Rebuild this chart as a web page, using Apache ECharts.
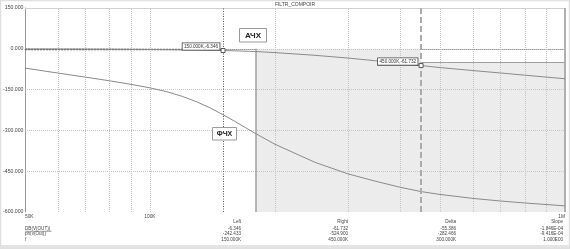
<!DOCTYPE html>
<html>
<head>
<meta charset="utf-8">
<script src="https://cdn.jsdelivr.net/npm/echarts@6/dist/echarts.min.js"></script>
<style>
  html, body { margin: 0; padding: 0; background: #fff; }
  #chart { width: 570px; height: 249px; }
</style>
</head>
<body>
<div id="chart"></div>
<script>
// Sweep frequencies, Hz
const freqs = [50000, 60000, 70000, 80000, 90000, 100000, 110000, 120000, 130000, 140000,
  150000, 160000, 174000, 180000, 200000, 250000, 300000, 350000, 400000, 450000,
  500000, 600000, 700000, 800000, 900000, 1000000];
// DB(V(OUT)), dB
const dbOut = [-0.4, -0.6, -0.9, -1.3, -1.8, -2.4, -3.0, -3.8, -4.6, -5.4,
  -6.346, -7.4, -9.2, -10, -14, -24, -34, -44, -53, -61.732,
  -69, -80, -89, -97, -104, -110];
// ph(v(Out)), degrees
const phOut = [-71, -89.1, -104.3, -117.7, -130.7, -143.5, -158, -175.5, -195.7, -218.2,
  -242.4334, -266.4, -299.2, -312.2, -350.9, -417.6, -459.8, -487.1, -508.8, -524.8996,
  -535.5, -550, -559.7, -566.9, -572.4, -577.5];

// Axis ticks and labels
const xTickValues = [50000, 100000, 1000000];
const xTickLabels = ['50K', '100K', '1M'];
const xGridFreqs = [60000, 70000, 80000, 90000, 100000, 200000, 300000, 400000,
  500000, 600000, 700000, 800000, 900000];
const yGridValues = [-450, -300, -150, 0];

// Cursors
const cursorLeft = 150000;
const cursorRight = 450000;

// Readout table
const rowNames = ['DB(V(OUT))', 'ph(v(Out))', 'f'];
const colNames = ['Left', 'Right', 'Delta', 'Slope'];

const title = 'FILTR_COMPOIR';
const curveNames = ['АЧХ', 'ФЧХ'];

const iL = freqs.indexOf(cursorLeft);
const iR = freqs.indexOf(cursorRight);

function fmtK(f) { return (f / 1000).toFixed(3) + 'K'; }
function fmtSci(v) {
  const s = v.toExponential(3);
  const parts = s.split('e');
  const n = parseInt(parts[1], 10);
  const e = (n < 0 ? '-' : '') + String(Math.abs(n)).padStart(2, '0');
  return parts[0] + 'E' + e;
}

const leftCol = [dbOut[iL].toFixed(3), phOut[iL].toFixed(3), fmtK(freqs[iL])];
const rightCol = [dbOut[iR].toFixed(3), phOut[iR].toFixed(3), fmtK(freqs[iR])];
const dF = freqs[iR] - freqs[iL];
const dDb = dbOut[iR] - dbOut[iL];
const dPh = phOut[iR] - phOut[iL];
const deltaCol = [dDb.toFixed(3), dPh.toFixed(3), fmtK(dF)];
const slopeCol = [fmtSci(dDb / dF), fmtSci(dPh / dF), fmtSci(dF / dF)];
const tableCols = [leftCol, rightCol, deltaCol, slopeCol];

const dbPts = freqs.map((f, i) => [f, dbOut[i]]);
const phPts = freqs.map((f, i) => [f, phOut[i]]);

const FONT = 'Liberation Sans, Arial, sans-serif';
const TXT = '#444';
const CURVE = '#8a8a8a';

const chart = echarts.init(document.getElementById('chart'), null, { renderer: 'canvas' });

const gridLineStyle = { color: '#c4c4c4', width: 1, type: [1, 1] };

const graphics = [];
// outer frame
graphics.push({ type: 'rect', shape: { x: 0, y: 245, width: 570, height: 4 }, style: { fill: '#e4e4e4' }, silent: true });
graphics.push({ type: 'rect', shape: { x: 0.5, y: 0.5, width: 569, height: 248 }, style: { fill: null, stroke: '#e0e0e0', lineWidth: 1.5 }, silent: true });
// title
graphics.push({ type: 'text', x: 295, y: 5, style: { text: title, fill: TXT, font: '5px ' + FONT, align: 'center', verticalAlign: 'middle' } });
// curve name boxes
graphics.push({ type: 'rect', shape: { x: 239.5, y: 28.5, width: 27, height: 13.5 }, style: { fill: '#fff', stroke: '#9a9a9a', lineWidth: 1 }, z: 20 });
graphics.push({ type: 'text', x: 253, y: 35.5, style: { text: curveNames[0], fill: '#222', font: 'bold 8px ' + FONT, align: 'center', verticalAlign: 'middle' }, z: 21 });
graphics.push({ type: 'rect', shape: { x: 212.5, y: 127.5, width: 24, height: 12.5 }, style: { fill: '#fff', stroke: '#9a9a9a', lineWidth: 1 }, z: 20 });
graphics.push({ type: 'text', x: 224.5, y: 134, style: { text: curveNames[1], fill: '#222', font: 'bold 7px ' + FONT, align: 'center', verticalAlign: 'middle' }, z: 21 });
// readout table
const rowY = [228.5, 234.2, 240];
const headY = 222;
const colRight = [241, 348, 456, 563];
rowNames.forEach((name, r) => {
  graphics.push({ type: 'text', x: 25, y: rowY[r], style: { text: name, fill: TXT, font: '4.6px ' + FONT, align: 'left', verticalAlign: 'middle' } });
});
graphics.push({ type: 'line', shape: { x1: 25, y1: 231.3, x2: 51.5, y2: 231.3 }, style: { stroke: '#666', lineWidth: 0.6 } });
colNames.forEach((name, c) => {
  graphics.push({ type: 'text', x: colRight[c], y: headY, style: { text: name, fill: TXT, font: '4.6px ' + FONT, align: 'right', verticalAlign: 'middle' } });
  tableCols[c].forEach((v, r) => {
    graphics.push({ type: 'text', x: colRight[c], y: rowY[r], style: { text: v, fill: TXT, font: '4.6px ' + FONT, align: 'right', verticalAlign: 'middle' } });
  });
});

function cursorLabel(p) {
  return fmtK(p.data.coord[0]) + ',' + p.data.coord[1].toFixed(3);
}

const option = {
  animation: false,
  backgroundColor: 'transparent',
  grid: { left: 25, right: 5, top: 8, bottom: 37, containLabel: false },
  xAxis: {
    type: 'log', logBase: 10, min: 50000, max: 1000000,
    axisLine: { show: true, lineStyle: { color: '#9a9a9a', width: 1 } },
    axisTick: { show: false },
    splitLine: { show: false },
    minorSplitLine: { show: false },
    axisLabel: {
      show: true, color: TXT, fontSize: 4.8, fontFamily: FONT, margin: 2,
      alignMinLabel: 'left', alignMaxLabel: 'right',
      formatter: v => {
        const k = xTickValues.findIndex(t => Math.abs(t - v) / t < 1e-6);
        return k >= 0 ? xTickLabels[k] : '';
      }
    }
  },
  yAxis: {
    type: 'value', min: -600, max: 150, interval: 150,
    axisLine: { show: true, lineStyle: { color: '#9a9a9a', width: 1 } },
    axisTick: { show: false },
    splitLine: { show: false },
    axisLabel: { color: TXT, fontSize: 5.2, fontFamily: FONT, margin: 1.5, formatter: v => v.toFixed(3) }
  },
  series: [
    {
      // shaded span between the cursors
      type: 'line', data: [], z: 1, silent: true,
      markArea: {
        silent: true,
        itemStyle: { color: '#ececec' },
        data: [
          [{ xAxis: 180000, yAxis: 0 }, { xAxis: cursorRight, yAxis: -600 }],
          [{ xAxis: cursorRight, yAxis: -50 }, { xAxis: 1000000, yAxis: -600 }]
        ]
      }
    },
    {
      // dotted grid and plot border
      type: 'line', data: [], z: 2, silent: true,
      markLine: {
        silent: true, symbol: 'none', label: { show: false }, z: 2,
        data: xGridFreqs.map(f => ({ xAxis: f, lineStyle: gridLineStyle }))
          .concat(yGridValues.map(v => ({ yAxis: v, lineStyle: gridLineStyle })))
          .concat([
            { yAxis: 150, lineStyle: { color: '#d0d0d0', width: 1, type: 'solid' } },
            { xAxis: 1000000, lineStyle: { color: '#b0b0b0', width: 2, type: 'solid' } },
            [{ coord: [180000, 0] }, { coord: [180000, -600], lineStyle: { color: '#a0a0a0', width: 1.5, type: 'solid' } }],
            [{ coord: [cursorRight, -50] }, { coord: [1000000, -50], lineStyle: { color: '#a0a0a0', width: 1, type: 'solid' } }],
            [{ coord: [50000, 0] }, { coord: [cursorLeft, 0], lineStyle: { color: '#666', width: 1.3, type: [2, 1] } }]
          ])
      }
    },
    {
      name: 'DB(V(OUT))', type: 'line', data: dbPts, z: 3, smooth: false,
      showSymbol: false, symbol: 'none',
      lineStyle: { color: CURVE, width: 1 }
    },
    {
      name: 'ph(v(Out))', type: 'line', data: phPts, z: 3, smooth: false,
      showSymbol: false, symbol: 'none',
      lineStyle: { color: CURVE, width: 1 }
    },
    {
      // cursors with their readout tags
      type: 'line', data: [], z: 5, silent: true,
      markLine: {
        silent: true, symbol: 'none', label: { show: false },
        data: [
          { xAxis: cursorLeft, lineStyle: { color: '#555', width: 1, type: [1, 1.5] } },
          { xAxis: cursorRight, lineStyle: { color: '#ababab', width: 2, type: [6, 3] } }
        ]
      },
      markPoint: {
        silent: true, symbol: 'rect', symbolSize: 4,
        itemStyle: { color: '#fff', borderColor: '#555', borderWidth: 1 },
        label: {
          show: true, position: 'left', distance: 1, offset: [0, -4],
          formatter: cursorLabel,
          color: '#333', fontSize: 4.6, fontFamily: FONT,
          backgroundColor: '#fff', borderColor: '#444', borderWidth: 0.8,
          padding: [1, 1.5, 0.5, 1.5]
        },
        data: [
          { coord: [cursorLeft, dbOut[iL]] },
          { coord: [cursorRight, dbOut[iR]] }
        ]
      }
    }
  ],
  graphic: graphics
};

chart.setOption(option);
</script>
</body>
</html>
